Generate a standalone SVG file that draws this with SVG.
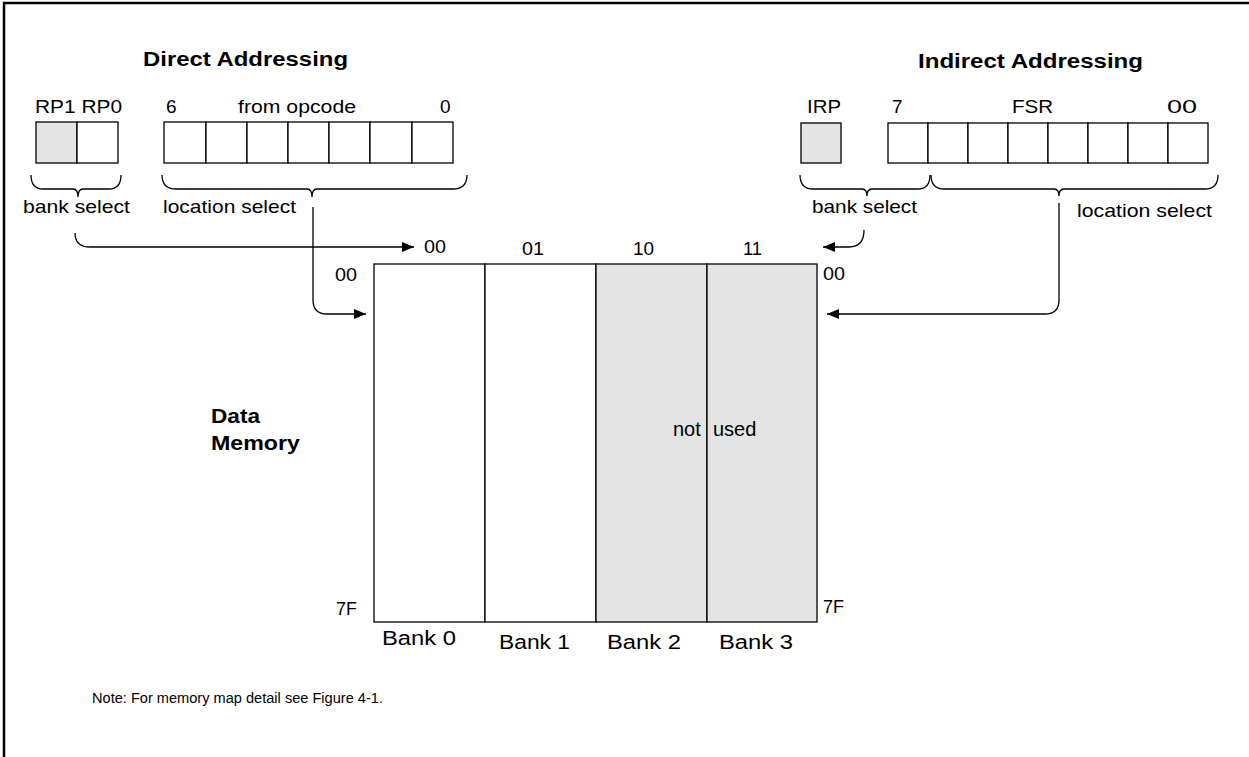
<svg xmlns="http://www.w3.org/2000/svg" width="1249" height="757" viewBox="0 0 1249 757">
<style>
text{font-family:"Liberation Sans",Arial,sans-serif;fill:#000}
.t{font-size:20px;font-weight:bold}
.l{font-size:19px}
.b{font-size:20px}
.n{font-size:14px}
.box{fill:#fff;stroke:#000;stroke-width:1.3}
.g{fill:#e4e4e4}
.br{fill:none;stroke:#000;stroke-width:1.3}
.c{fill:none;stroke:#000;stroke-width:1.3}
</style>
<defs>
<marker id="ah" viewBox="0 0 12 10" refX="12" refY="5" markerWidth="12" markerHeight="10" markerUnits="userSpaceOnUse" orient="auto">
<path d="M0,0 L12,5 L0,10 Z" fill="#000"/>
</marker>
</defs>
<rect width="1249" height="757" fill="#fff"/>
<path d="M4,757 V3 H1249" fill="none" stroke="#000" stroke-width="2.5"/>

<g id="direct-title"><text class="t" x="143" y="66" textLength="205" lengthAdjust="spacingAndGlyphs">Direct Addressing</text></g>
<g id="indirect-title"><text class="t" x="918" y="68" textLength="225" lengthAdjust="spacingAndGlyphs">Indirect Addressing</text></g>

<g id="rp-register">
<text class="l" x="35" y="113" textLength="87" lengthAdjust="spacingAndGlyphs">RP1 RP0</text>
<rect class="box g" x="36" y="122" width="41" height="41"/>
<rect class="box" x="77" y="122" width="41" height="41"/>
<path class="br" d="M31,175 Q31,189 43,189 H73 Q78,189 78,197 Q78,189 83,189 H109 Q121,189 121,175"/>
<text class="l" x="23" y="213" textLength="107" lengthAdjust="spacingAndGlyphs">bank select</text>
</g>

<g id="opcode-register">
<text class="l" x="166" y="113">6</text>
<text class="l" x="238" y="113" textLength="118" lengthAdjust="spacingAndGlyphs">from opcode</text>
<text class="l" x="440" y="113">0</text>
<rect class="box" x="164" y="122" width="42" height="41"/>
<rect class="box" x="206" y="122" width="41" height="41"/>
<rect class="box" x="247" y="122" width="41" height="41"/>
<rect class="box" x="288" y="122" width="41" height="41"/>
<rect class="box" x="329" y="122" width="41" height="41"/>
<rect class="box" x="370" y="122" width="42" height="41"/>
<rect class="box" x="412" y="122" width="41" height="41"/>
<path class="br" d="M162,175 Q162,189 176,189 H307 Q312,189 312,197 Q312,189 317,189 H453 Q467,189 467,175"/>
<text class="l" x="163" y="213" textLength="133" lengthAdjust="spacingAndGlyphs">location select</text>
</g>

<g id="irp-register">
<text class="l" x="807" y="113" textLength="34" lengthAdjust="spacingAndGlyphs">IRP</text>
<rect class="box g" x="801" y="123" width="40" height="40"/>
<path class="br" d="M800,175 Q800,189 813,189 H862 Q867,189 867,196 Q867,189 872,189 H918 Q930,189 930,175"/>
<text class="l" x="812" y="213" textLength="105" lengthAdjust="spacingAndGlyphs">bank select</text>
</g>

<g id="fsr-register">
<text class="l" x="892" y="113">7</text>
<text class="l" x="1012" y="113" textLength="41" lengthAdjust="spacingAndGlyphs">FSR</text>
<text class="l" x="1167" y="113" textLength="30" lengthAdjust="spacingAndGlyphs">00</text>
<rect class="box" x="888" y="123" width="40" height="40"/>
<rect class="box" x="928" y="123" width="40" height="40"/>
<rect class="box" x="968" y="123" width="40" height="40"/>
<rect class="box" x="1008" y="123" width="40" height="40"/>
<rect class="box" x="1048" y="123" width="40" height="40"/>
<rect class="box" x="1088" y="123" width="40" height="40"/>
<rect class="box" x="1128" y="123" width="40" height="40"/>
<rect class="box" x="1168" y="123" width="40" height="40"/>
<path class="br" d="M931,175 Q931,189 944,189 H1054 Q1059,189 1059,196 Q1059,189 1064,189 H1205 Q1218,189 1218,175"/>
<text class="l" x="1077" y="217" textLength="135" lengthAdjust="spacingAndGlyphs">location select</text>
</g>

<g id="data-memory">
<rect class="box" x="374" y="264" width="111" height="358"/>
<rect class="box" x="485" y="264" width="111" height="358"/>
<rect class="box g" x="596" y="264" width="111" height="358"/>
<rect class="box g" x="707" y="264" width="110" height="358"/>
<text class="l" x="424" y="253" textLength="22" lengthAdjust="spacingAndGlyphs">00</text>
<text class="l" x="522" y="255" textLength="22" lengthAdjust="spacingAndGlyphs">01</text>
<text class="l" x="633" y="255" textLength="21" lengthAdjust="spacingAndGlyphs">10</text>
<text class="l" x="743" y="255" textLength="19" lengthAdjust="spacingAndGlyphs">11</text>
<text class="l" x="335" y="281" textLength="22" lengthAdjust="spacingAndGlyphs">00</text>
<text class="l" x="823" y="280" textLength="22" lengthAdjust="spacingAndGlyphs">00</text>
<text class="l" x="336" y="615" textLength="21" lengthAdjust="spacingAndGlyphs">7F</text>
<text class="l" x="823" y="613" textLength="21" lengthAdjust="spacingAndGlyphs">7F</text>
<text class="b" x="673" y="436" font-size="21">not</text>
<text class="b" x="713" y="436" font-size="21">used</text>
<text class="b" x="382" y="645" textLength="74" lengthAdjust="spacingAndGlyphs">Bank 0</text>
<text class="b" x="499" y="649" textLength="71" lengthAdjust="spacingAndGlyphs">Bank 1</text>
<text class="b" x="607" y="649" textLength="74" lengthAdjust="spacingAndGlyphs">Bank 2</text>
<text class="b" x="719" y="649" textLength="74" lengthAdjust="spacingAndGlyphs">Bank 3</text>
</g>

<g id="data-memory-label">
<text class="t" x="211" y="423" textLength="49" lengthAdjust="spacingAndGlyphs">Data</text>
<text class="t" x="211" y="450" textLength="89" lengthAdjust="spacingAndGlyphs">Memory</text>
</g>

<g id="note"><text class="n" x="92" y="703" textLength="291" lengthAdjust="spacingAndGlyphs">Note: For memory map detail see Figure 4-1.</text></g>

<g id="connectors">
<path class="c" d="M75,233 Q75,247 90,247 H414" marker-end="url(#ah)"/>
<path class="c" d="M313,207 V300 Q313,314 327,314 H366" marker-end="url(#ah)"/>
<path class="c" d="M864,230 Q864,247 849,247 H823" marker-end="url(#ah)"/>
<path class="c" d="M1059,203 V300 Q1059,314 1045,314 H827" marker-end="url(#ah)"/>
</g>
</svg>
